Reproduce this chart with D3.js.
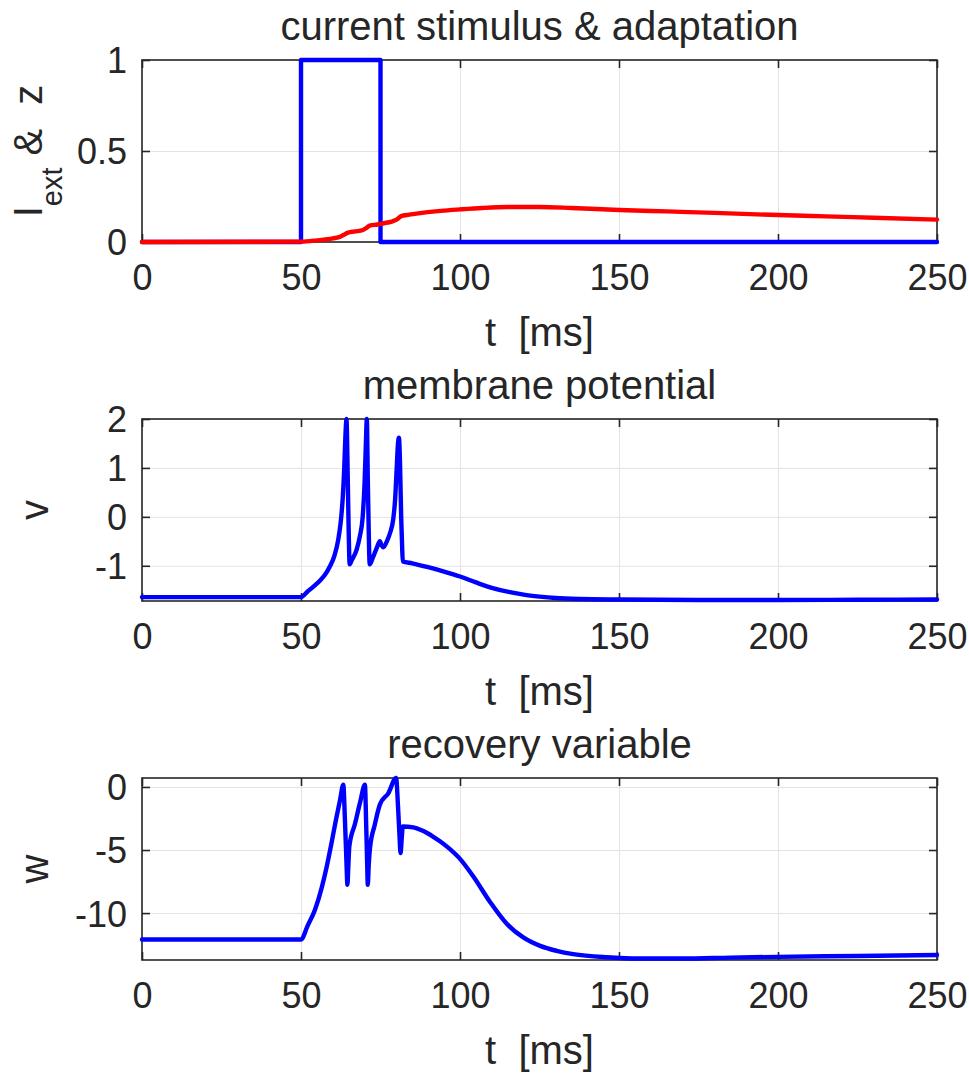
<!DOCTYPE html>
<html>
<head>
<meta charset="utf-8">
<script src="https://cdn.jsdelivr.net/npm/d3@7"></script>
<style>
  html, body { margin: 0; padding: 0; background: #ffffff; }
  svg { display: block; }
  text { font-family: "Liberation Sans", Arial, sans-serif; fill: #262626; }
</style>
</head>
<body>
<svg id="chart" width="969" height="1073"></svg>
<script>
// ---------------- data ----------------
const xTicks = [0, 50, 100, 150, 200, 250];

// panel 1: current stimulus (blue) and adaptation z (red)
const tStim = [0, 50, 50, 75, 75, 250];
const iStim = [0, 0, 1, 1, 0, 0];
const tZ = [0, 50, 55, 60, 62.5, 63.5, 64.8, 67, 69.5, 70.6, 71.6, 74, 76, 78.5, 80.2, 81.5, 84, 88, 94, 100, 107, 115, 125, 135, 150, 165, 180, 200, 215, 230, 250];
const zVal = [0, 0.002, 0.009, 0.02, 0.03, 0.04, 0.052, 0.058, 0.066, 0.078, 0.09, 0.096, 0.103, 0.112, 0.124, 0.142, 0.15, 0.16, 0.171, 0.179, 0.187, 0.192, 0.192, 0.187, 0.176, 0.168, 0.16, 0.148, 0.141, 0.133, 0.123];
const yTicks1 = [0, 0.5, 1];

// panel 2: membrane potential v
const tV = [0, 50, 52, 54, 56, 58, 59.1, 60.5, 61.7, 62.5, 63.1, 63.6, 64.0, 64.3, 64.7, 65.0, 65.3,
            66, 67.5, 68.5, 69.4, 70.0, 70.4, 70.7, 71.0, 71.3, 71.6,
            72.5, 73.8, 74.8, 75.3, 75.9, 77, 78, 79, 79.6, 80.1, 80.5, 80.8, 81.1, 81.5, 81.8, 82.0,
            85, 90, 95, 100, 105, 110, 115.7, 120, 125, 130, 137.7, 150, 175, 200, 225, 250];
const vVal = [-1.64, -1.64, -1.53, -1.42, -1.30, -1.14, -1.01, -0.80, -0.47, -0.10, 0.36, 1.0, 1.7, 2.0, 0.8, -0.3, -0.97,
              -0.88, -0.67, -0.40, 0.0, 0.7, 1.5, 2.0, 0.8, -0.3, -0.97,
              -0.85, -0.64, -0.50, -0.58, -0.62, -0.50, -0.33, -0.05, 0.36, 1.0, 1.5, 1.62, 1.2, 0.0, -0.6, -0.91,
              -0.95, -1.03, -1.12, -1.22, -1.34, -1.45, -1.54, -1.59, -1.63, -1.66, -1.68, -1.69, -1.70, -1.70, -1.695, -1.69];
const yTicks2 = [-1, 0, 1, 2];

// panel 3: recovery variable w
const tW = [0, 50, 52, 54.4, 56.5, 58.1, 59.6, 61, 62.3, 63.3, 63.8, 64.3, 64.6, 64.9, 65.2,
            67, 68.6, 70.1, 70.5, 70.8, 71.0, 71.3, 71.7,
            73.2, 74.8, 77.5, 79.9, 80.5, 81.0, 81.3, 81.7, 82.0,
            85.3, 88.5, 91.6, 93.7, 96, 100, 104.2, 109.4, 114.7, 119.9, 125.2, 130.4, 135.6, 146.1, 156.6, 170, 185, 200, 225, 250];
const wVal = [-12.1, -12.1, -11.05, -9.74, -8.0, -6.3, -4.44, -2.6, -1.0, 0.18, -2.5, -6.0, -7.75, -6.2, -4.71,
              -2.9, -1.2, 0.18, -3.0, -6.0, -7.75, -6.2, -4.84,
              -3.0, -1.4, -0.48, 0.71, -1.5, -4.0, -5.24, -4.0, -3.13,
              -3.2, -3.5, -3.95, -4.3, -4.75, -5.7, -7.1, -9.1, -10.85, -11.93, -12.6, -12.99, -13.25, -13.5, -13.6, -13.6, -13.53, -13.47, -13.4, -13.32];
const yTicks3 = [-10, -5, 0];

// ---------------- layout ----------------
const svg = d3.select("#chart");
const X0 = 142, X1 = 937;
const x = d3.scaleLinear().domain([0, 250]).range([X0, X1]);

const panels = [
  { top: 60,  bottom: 242, domain: [0, 1],        ticks: yTicks1, fmt: d => String(d),
    title: "current stimulus & adaptation", series: [
      { t: tStim, v: iStim, color: "#0000ff", smooth: false },
      { t: tZ, v: zVal, color: "#ff0000", smooth: true } ], ylabel: "stim" },
  { top: 419, bottom: 601, domain: [-1.72, 2.0],  ticks: yTicks2, fmt: d => String(d),
    title: "membrane potential", series: [ { t: tV, v: vVal, color: "#0000ff", smooth: true } ], ylabel: "v" },
  { top: 778, bottom: 960, domain: [-13.72, 0.71], ticks: yTicks3, fmt: d => String(d),
    title: "recovery variable", series: [ { t: tW, v: wVal, color: "#0000ff", smooth: true } ], ylabel: "w" }
];

const axisColor = "#262626";
const gridColor = "#e3e3e3";
const tickLen = 8;

panels.forEach((p, pi) => {
  const y = d3.scaleLinear().domain(p.domain).range([p.bottom, p.top]);
  const g = svg.append("g");

  // grid
  const xGrid = d3.axisBottom(x).tickValues(xTicks).tickSize(-(p.bottom - p.top)).tickFormat("");
  g.append("g").attr("transform", `translate(0,${p.bottom})`).call(xGrid)
    .call(s => s.select(".domain").remove())
    .call(s => s.selectAll("line").attr("stroke", gridColor).attr("stroke-width", 1));
  const yGrid = d3.axisLeft(y).tickValues(p.ticks).tickSize(-(X1 - X0)).tickFormat("");
  g.append("g").attr("transform", `translate(${X0},0)`).call(yGrid)
    .call(s => s.select(".domain").remove())
    .call(s => s.selectAll("line").attr("stroke", gridColor).attr("stroke-width", 1));

  // box
  g.append("rect").attr("x", X0).attr("y", p.top).attr("width", X1 - X0).attr("height", p.bottom - p.top)
    .attr("fill", "none").attr("stroke", axisColor).attr("stroke-width", 1.6);

  // inner ticks + labels via d3 axes
  const xb = d3.axisBottom(x).tickValues(xTicks).tickSize(-tickLen).tickPadding(0).tickFormat(d => String(d));
  g.append("g").attr("transform", `translate(0,${p.bottom})`).call(xb)
    .call(s => s.select(".domain").remove())
    .call(s => s.selectAll("line").attr("stroke", axisColor).attr("stroke-width", 1.6))
    .call(s => s.selectAll("text").attr("y", 48).attr("dy", null)
      .style("font-size", "36px").attr("fill", axisColor).attr("font-family", "Liberation Sans, Arial, sans-serif"));
  const xt = d3.axisTop(x).tickValues(xTicks).tickSize(-tickLen).tickFormat("");
  g.append("g").attr("transform", `translate(0,${p.top})`).call(xt)
    .call(s => s.select(".domain").remove())
    .call(s => s.selectAll("line").attr("stroke", axisColor).attr("stroke-width", 1.6));

  const yl = d3.axisLeft(y).tickValues(p.ticks).tickSize(-tickLen).tickPadding(0).tickFormat(p.fmt);
  g.append("g").attr("transform", `translate(${X0},0)`).call(yl)
    .call(s => s.select(".domain").remove())
    .call(s => s.selectAll("line").attr("stroke", axisColor).attr("stroke-width", 1.6))
    .call(s => s.selectAll("text").attr("x", -15).attr("dy", "0.36em")
      .style("font-size", "36px").attr("fill", axisColor).attr("font-family", "Liberation Sans, Arial, sans-serif"));
  const yr = d3.axisRight(y).tickValues(p.ticks).tickSize(-tickLen).tickFormat("");
  g.append("g").attr("transform", `translate(${X1},0)`).call(yr)
    .call(s => s.select(".domain").remove())
    .call(s => s.selectAll("line").attr("stroke", axisColor).attr("stroke-width", 1.6));

  // lines
  p.series.forEach(s => {
    const pts = s.t.map((t, i) => [t, s.v[i]]);
    const line = d3.line().x(d => x(d[0])).y(d => y(d[1]))
      .curve(s.smooth ? d3.curveMonotoneX : d3.curveLinear);
    g.append("path").datum(pts).attr("d", line)
      .attr("fill", "none").attr("stroke", s.color).attr("stroke-width", 4.4)
      .attr("stroke-linejoin", "round").attr("stroke-linecap", "round");
  });

  // title
  g.append("text").attr("x", (X0 + X1) / 2).attr("y", p.top - 20)
    .attr("text-anchor", "middle").style("font-size", "40px").text(p.title);

  // x label
  g.append("text").attr("x", (X0 + X1) / 2).attr("y", p.bottom + 104)
    .attr("text-anchor", "middle").style("font-size", "40px").attr("xml:space", "preserve").text("t  [ms]");

  // y label
  const cy = (p.top + p.bottom) / 2;
  if (p.ylabel === "stim") {
    const tx = g.append("text").attr("transform", `translate(42,${cy}) rotate(-90)`)
      .attr("text-anchor", "middle").style("font-size", "40px");
    tx.append("tspan").text("I");
    tx.append("tspan").attr("dy", 20).style("font-size", "29px").text("ext");
    tx.append("tspan").attr("dy", -20).attr("dx", 12).text("&");
    tx.append("tspan").attr("dx", 24).text("z");
  } else {
    g.append("text").attr("transform", `translate(48,${cy}) rotate(-90)`)
      .attr("text-anchor", "middle").style("font-size", "40px").text(p.ylabel);
  }
});
</script>
</body>
</html>
